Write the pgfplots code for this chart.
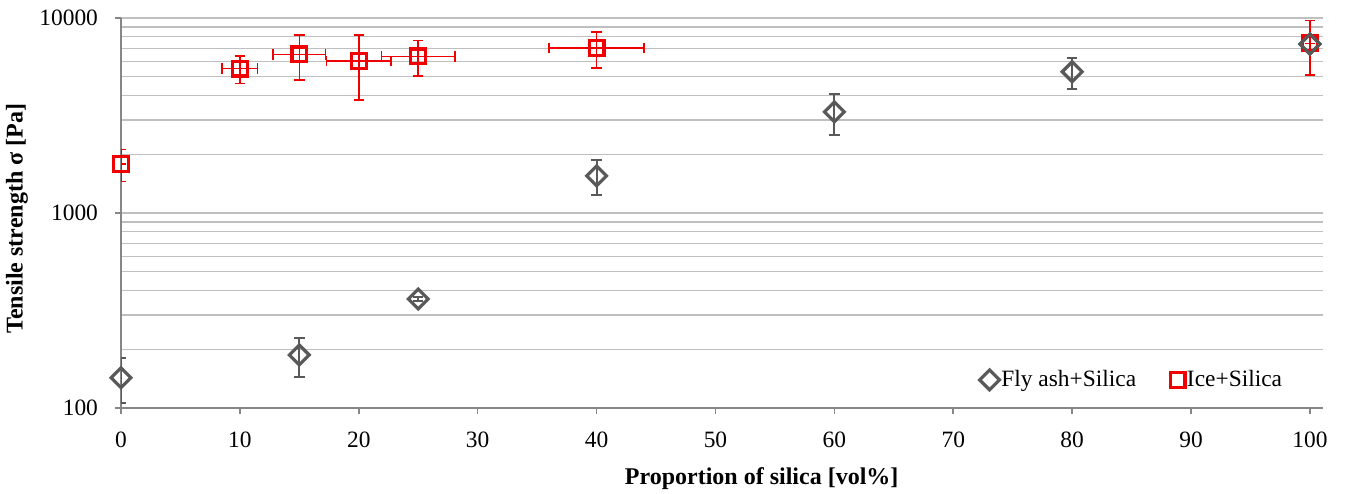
\documentclass[border=0pt]{standalone}
\usepackage{fontspec}
\setmainfont{Liberation Serif}
\usepackage{pgfplots}
\usepackage{pgfplotstable}
\pgfplotsset{compat=1.18}
\definecolor{axgray}{RGB}{134,134,134}
\definecolor{gridgray}{RGB}{191,191,191}
\definecolor{mkgray}{RGB}{89,89,89}
\definecolor{mkred}{RGB}{240,0,0}

\pgfplotstableread{
x y ey
0 143 37
15 187 42
25 362 10
40 1550 320
60 3300 780
80 5300 970
100 7350 600
}\flyash

\pgfplotstableread{
x y ex ey
0 1780 0 330
10 5500 1.5 900
15 6500 2.2 1700
20 6000 2.7 2200
25 6350 3.1 1300
40 7000 4.0 1450
100 7400 0 2300
}\ice

\pgfplotstableread{
x y ey
100 7350 600
}\flyashtop

\begin{document}
\begin{tikzpicture}
\begin{axis}[
  name=ax,
  scale only axis, width=601pt, height=195pt,
  ymode=log, ymin=100, ymax=10000,
  xmin=0, xmax=101.1,
  axis x line*=bottom, axis y line*=left,
  axis line style={axgray, line width=0.8pt, -},
  xtick={0,10,20,30,40,50,60,70,80,90,100},
  xticklabels={0,10,20,30,40,50,60,70,80,90,100},
  ytick={100,1000,10000},
  yticklabels={100,1000,10000},
  minor ytick={200,300,400,500,600,700,800,900,2000,3000,4000,5000,6000,7000,8000,9000},
  minor tick length=0pt,
  major tick length=3pt,
  tick align=outside,
  tick style={axgray, line width=0.8pt},
  ymajorgrids, yminorgrids,
  major grid style={gridgray, line width=0.6pt},
  minor grid style={gridgray, line width=0.6pt},
  ticklabel style={font=\fontsize{11.7}{13}\selectfont, text=black},
  xticklabel style={yshift=-5.5pt},
  yticklabel style={xshift=-5pt},
  xlabel={\textbf{Proportion of silica [vol\%]}},
  ylabel={\textbf{Tensile strength σ [Pa]}},
  label style={font=\fontsize{12}{14}\selectfont},
  xlabel style={at={(axis description cs:0.533,-0.18)}, anchor=center},
  ylabel style={at={(axis description cs:-0.0865,0.485)}, anchor=center},
  legend columns=2,
  legend image code/.code={\draw[mark repeat=2,mark phase=2,#1] plot coordinates {(0cm,0cm) (0.17cm,0cm) (0.34cm,0cm)};},
  legend style={draw=none, fill=none, at={(axis description cs:0.714,0.072)}, anchor=west,
    font=\fontsize{11.7}{13}\selectfont, inner sep=0pt,
    nodes={inner sep=1pt},
    /tikz/every even column/.append style={column sep=16pt}},
]
\addplot[only marks, mark=square, mark size=3.5pt,
  mark options={rotate=45, draw=mkgray, fill=none, line width=1.6pt},
  error bars/.cd, y dir=both, y explicit,
  error bar style={mkgray, line width=1pt},
  error mark options={rotate=90, mkgray, mark size=2.6pt, line width=1pt}]
  table[x=x, y=y, y error=ey] {\flyash};
\addlegendentry{Fly ash+Silica}
\addplot[only marks, mark=square, mark size=3.7pt,
  mark options={draw=mkred, fill=none, line width=1.6pt},
  error bars/.cd, x dir=both, x explicit, y dir=both, y explicit,
  error bar style={mkred, line width=0.75pt},
  error mark options={rotate=90, mkred, mark size=2.6pt, line width=0.75pt}]
  table[x=x, y=y, x error=ex, y error=ey] {\ice};
\addlegendentry{Ice+Silica}
\addplot[forget plot, only marks, mark=square, mark size=3.5pt,
  mark options={rotate=45, draw=mkgray, fill=none, line width=1.6pt}]
  table[x=x, y=y] {\flyashtop};
\end{axis}
\pgfresetboundingbox
\path[use as bounding box] ([shift={(-60.5pt,-43pt)}]ax.south west) rectangle ([shift={(15.5pt,9pt)}]ax.north east);
\end{tikzpicture}
\end{document}
